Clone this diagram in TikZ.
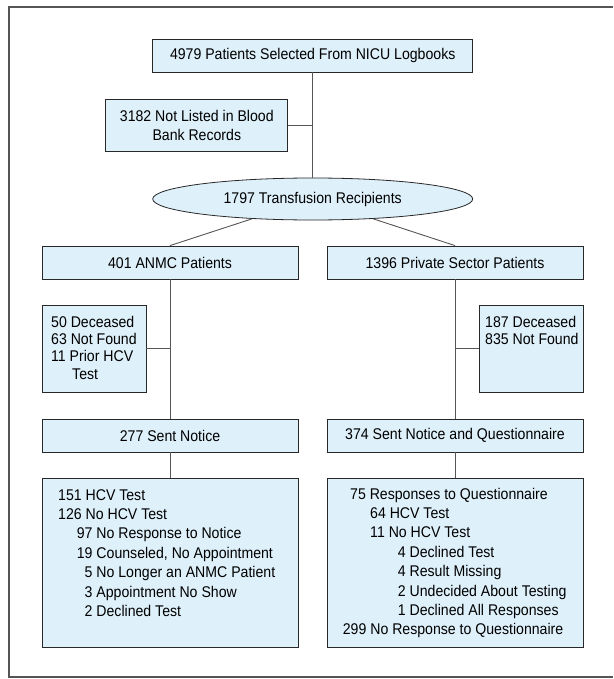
\documentclass[tikz,border=0pt]{standalone}
\usepackage{fontspec}
\setmainfont{Liberation Sans}[FakeStretch=0.91]
\usetikzlibrary{shapes.geometric}
\definecolor{boxblue}{RGB}{222,240,250}
\definecolor{dgray}{RGB}{85,85,85}
\definecolor{edge}{RGB}{40,40,40}

\begin{document}
\begin{tikzpicture}[x=1pt, y=-1pt,
		box/.style={draw=edge, fill=boxblue, line width=0.8pt, inner sep=0pt, font=\fontsize{15.5}{19}\selectfont},
		link/.style={draw=dgray, line width=0.9pt},
		txt/.style={inner sep=0pt, anchor=base west, font=\fontsize{15.5}{19.4}\selectfont}]
			\useasboundingbox (0,0) rectangle (613,679);
			\draw[dgray, line width=2pt] (613,7) -- (9,7) -- (9,677) -- (613,677);
			% selection
			\node[box, minimum width=320pt, minimum height=33pt] (sel) at (312.7,55.5) {4979 Patients Selected From NICU Logbooks};
			\node[box, minimum width=182pt, minimum height=52pt, align=center] (bank) at (196.8,125) {3182 Not Listed in Blood\\Bank Records};
			\node[box, ellipse, minimum width=320pt, minimum height=42pt] (recip) at (312.7,199) {1797 Transfusion Recipients};
			% two arms
			\node[box, minimum width=256pt, minimum height=33pt] (anmc) at (170,262.5) {401 ANMC Patients};
			\node[box, minimum width=256pt, minimum height=33pt] (priv) at (455,262.5) {1396 Private Sector Patients};
			\node[box, minimum width=104pt, minimum height=87pt] (lossA) at (94,348.5) {};
			\node[box, minimum width=103.5pt, minimum height=87pt] (lossP) at (531.25,348.5) {};
			\node[txt, font=\fontsize{15.5}{17.3}\selectfont] (lossAtxt) at (51,327.3) {\begin{tabular}[t]{@{}l@{}}50 Deceased\\63 Not Found\\11 Prior HCV\\\hspace*{21pt}Test\end{tabular}};
			\node[txt, font=\fontsize{15.5}{17.3}\selectfont] (lossPtxt) at (485,327.3) {\begin{tabular}[t]{@{}l@{}}187 Deceased\\835 Not Found\end{tabular}};
			\node[box, minimum width=256pt, minimum height=33pt] (sentA) at (170,435.5) {277 Sent Notice};
			\node[box, minimum width=256pt, minimum height=33pt] (sentP) at (455,435.5) {374 Sent Notice and Questionnaire};
			% outcomes
			\node[box, minimum width=256pt, minimum height=169pt] (resA) at (170,562.5) {};
			\node[box, minimum width=256pt, minimum height=169pt] (resP) at (455,562.5) {};
			\node[txt] (resAtxt) at (58,500) {\begin{tabular}[t]{@{}l@{}}151 HCV Test\\126 No HCV Test\\\hspace*{18.7pt}97 No Response to Notice\\\hspace*{18.7pt}19 Counseled, No Appointment\\\hspace*{26.5pt}5 No Longer an ANMC Patient\\\hspace*{26.5pt}3 Appointment No Show\\\hspace*{26.5pt}2 Declined Test\end{tabular}};
			\node[txt] (resPtxt) at (342.7,499) {\begin{tabular}[t]{@{}l@{}}\hspace*{7.3pt}75 Responses to Questionnaire\\\hspace*{27.3pt}64 HCV Test\\\hspace*{27.3pt}11 No HCV Test\\\hspace*{55pt}4 Declined Test\\\hspace*{55pt}4 Result Missing\\\hspace*{55pt}2 Undecided About Testing\\\hspace*{55pt}1 Declined All Responses\\299 No Response to Questionnaire\end{tabular}};
			% links
			\draw[link] (sel) -- (recip);
			\draw[link] (bank.east) -- (bank.east -| sel.south);
			\draw[link] (recip) -- (anmc.north);
			\draw[link] (recip) -- (priv.north);
			\draw[link] (anmc) -- (sentA);
			\draw[link] (lossA.east) -- (lossA.east -| anmc.south);
			\draw[link] (priv) -- (sentP);
			\draw[link] (lossP.west) -- (lossP.west -| priv.south);
			\draw[link] (sentA) -- (resA);
			\draw[link] (sentP) -- (resP);
\end{tikzpicture}
\end{document}
